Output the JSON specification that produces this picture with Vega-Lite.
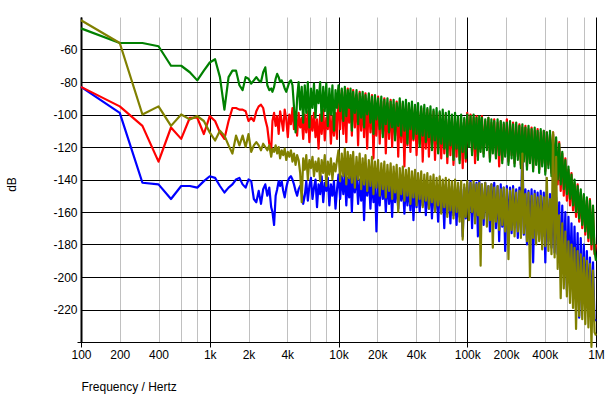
{
"$schema": "https://vega.github.io/schema/vega-lite/v6.json",
"width": 515, "height": 325,
"autosize": {"type": "none"},
"padding": {"left": 81, "top": 17, "right": 17, "bottom": 66},
"background": "white",
"config": {"view": {"stroke": null}},
"data": {"values": [
{"f":100,"r":-83,"g":-47,"b":-83,"o":-42},
{"f":200,"r":-95,"g":-56,"b":-99,"o":-56},
{"f":300,"r":-107,"g":-56,"b":-142,"o":-100},
{"f":400,"r":-129,"g":-58,"b":-143,"o":-95},
{"f":500,"r":-108,"g":-70,"b":-152,"o":-107},
{"f":600,"r":-115,"g":-70,"b":-144,"o":-100},
{"f":700,"r":-102,"g":-74,"b":-144,"o":-103},
{"f":800,"r":-102,"g":-79,"b":-145,"o":-101},
{"f":900,"r":-112,"g":-73,"b":-141,"o":-104},
{"f":1000,"r":-101,"g":-68,"b":-138,"o":-111},
{"f":1100,"r":-104,"g":-66,"b":-139,"o":-116},
{"f":1200,"r":-111,"g":-77,"b":-144,"o":-110},
{"f":1300,"r":-115,"g":-97,"b":-148,"o":-113},
{"f":1400,"r":-104,"g":-77,"b":-145,"o":-119},
{"f":1500,"r":-96,"g":-73,"b":-143,"o":-124},
{"f":1600,"r":-96,"g":-73,"b":-140,"o":-113},
{"f":1700,"r":-97,"g":-82,"b":-139,"o":-119},
{"f":1800,"r":-97,"g":-85,"b":-143,"o":-113},
{"f":1900,"r":-98,"g":-77,"b":-145,"o":-120},
{"f":2000,"r":-104,"g":-78,"b":-140,"o":-112},
{"f":2100,"r":-102,"g":-81,"b":-141,"o":-123},
{"f":2200,"r":-104,"g":-79,"b":-152,"o":-119},
{"f":2300,"r":-98,"g":-77,"b":-154,"o":-117},
{"f":2400,"r":-95,"g":-79,"b":-147,"o":-119},
{"f":2500,"r":-94,"g":-80,"b":-155,"o":-122},
{"f":2600,"r":-96,"g":-74,"b":-146,"o":-118},
{"f":2700,"r":-103,"g":-71,"b":-143,"o":-120},
{"f":2800,"r":-108,"g":-82,"b":-150,"o":-122},
{"f":2900,"r":-118,"g":-85,"b":-145,"o":-119},
{"f":3000,"r":-122,"g":-84,"b":-157,"o":-126},
{"f":3070,"r":-104,"g":-86,"b":-160,"o":-121},
{"f":3160,"r":-99,"g":-83,"b":-168,"o":-123},
{"f":3250,"r":-107,"g":-78,"b":-150,"o":-119},
{"f":3340,"r":-101,"g":-75,"b":-146,"o":-124},
{"f":3430,"r":-112,"g":-77,"b":-141,"o":-120},
{"f":3520,"r":-98,"g":-80,"b":-144,"o":-127},
{"f":3620,"r":-104,"g":-79,"b":-141,"o":-122},
{"f":3720,"r":-110,"g":-81,"b":-147,"o":-125},
{"f":3820,"r":-97,"g":-84,"b":-151,"o":-121},
{"f":3930,"r":-103,"g":-86,"b":-145,"o":-128},
{"f":4040,"r":-114,"g":-83,"b":-141,"o":-123},
{"f":4150,"r":-100,"g":-80,"b":-139,"o":-126},
{"f":4270,"r":-106,"g":-79,"b":-138,"o":-122},
{"f":4390,"r":-96,"g":-82,"b":-140,"o":-129},
{"f":4510,"r":-109,"g":-95,"b":-143,"o":-124},
{"f":4640,"r":-101,"g":-111,"b":-147,"o":-131},
{"f":4770,"r":-113,"g":-90,"b":-150,"o":-125},
{"f":4900,"r":-99,"g":-80,"b":-146,"o":-128},
{"f":5040,"r":-108,"g":-97,"b":-144,"o":-136},
{"f":5180,"r":-102,"g":-83,"b":-147,"o":-154},
{"f":5320,"r":-115,"g":-105,"b":-155,"o":-127},
{"f":5470,"r":-100,"g":-82,"b":-150,"o":-134},
{"f":5620,"r":-111,"g":-99,"b":-141,"o":-125},
{"f":5780,"r":-98,"g":-80,"b":-153,"o":-140},
{"f":5940,"r":-117,"g":-108,"b":-144,"o":-128},
{"f":6110,"r":-101,"g":-84,"b":-139,"o":-133},
{"f":6280,"r":-110,"g":-96,"b":-152,"o":-126},
{"f":6450,"r":-99,"g":-81,"b":-145,"o":-138},
{"f":6630,"r":-114,"g":-102,"b":-140,"o":-129},
{"f":6810,"r":-103,"g":-85,"b":-157,"o":-135},
{"f":7000,"r":-121,"g":-93,"b":-143,"o":-127},
{"f":7200,"r":-100,"g":-80,"b":-149,"o":-141},
{"f":7400,"r":-112,"g":-104,"b":-138,"o":-128},
{"f":7610,"r":-97,"g":-83,"b":-154,"o":-136},
{"f":7820,"r":-116,"g":-98,"b":-142,"o":-125},
{"f":8040,"r":-102,"g":-81,"b":-147,"o":-144},
{"f":8260,"r":-109,"g":-107,"b":-139,"o":-129},
{"f":8490,"r":-96,"g":-84,"b":-156,"o":-137},
{"f":8730,"r":-118,"g":-100,"b":-143,"o":-127},
{"f":8970,"r":-101,"g":-82,"b":-150,"o":-140},
{"f":9220,"r":-113,"g":-110,"b":-141,"o":-130},
{"f":9480,"r":-99,"g":-85,"b":-158,"o":-135},
{"f":9740,"r":-115,"g":-96,"b":-146,"o":-128},
{"f":10000,"r":-84,"g":-82,"b":-137,"o":-122},
{"f":10300,"r":-109,"g":-98,"b":-152,"o":-141},
{"f":10600,"r":-85,"g":-84,"b":-138,"o":-124},
{"f":10900,"r":-112,"g":-104,"b":-149,"o":-138},
{"f":11200,"r":-86,"g":-83,"b":-136,"o":-121},
{"f":11500,"r":-117,"g":-101,"b":-156,"o":-143},
{"f":11800,"r":-84,"g":-85,"b":-139,"o":-123},
{"f":12100,"r":-105,"g":-96,"b":-151,"o":-139},
{"f":12400,"r":-87,"g":-84,"b":-137,"o":-125},
{"f":12700,"r":-113,"g":-110,"b":-160,"o":-142},
{"f":13000,"r":-85,"g":-86,"b":-138,"o":-123},
{"f":13400,"r":-108,"g":-99,"b":-148,"o":-145},
{"f":13800,"r":-88,"g":-85,"b":-137,"o":-126},
{"f":14200,"r":-119,"g":-106,"b":-155,"o":-140},
{"f":14600,"r":-86,"g":-87,"b":-140,"o":-124},
{"f":15000,"r":-110,"g":-102,"b":-153,"o":-146},
{"f":15400,"r":-89,"g":-86,"b":-138,"o":-127},
{"f":15800,"r":-114,"g":-108,"b":-165,"o":-143},
{"f":16200,"r":-87,"g":-88,"b":-139,"o":-125},
{"f":16700,"r":-121,"g":-100,"b":-150,"o":-147},
{"f":17200,"r":-90,"g":-87,"b":-138,"o":-128},
{"f":17700,"r":-111,"g":-105,"b":-158,"o":-144},
{"f":18200,"r":-88,"g":-89,"b":-140,"o":-126},
{"f":18700,"r":-127,"g":-112,"b":-154,"o":-149},
{"f":19200,"r":-91,"g":-88,"b":-139,"o":-129},
{"f":19700,"r":-113,"g":-103,"b":-172,"o":-145},
{"f":20300,"r":-89,"g":-90,"b":-141,"o":-128},
{"f":20900,"r":-118,"g":-109,"b":-156,"o":-150},
{"f":21500,"r":-92,"g":-89,"b":-139,"o":-130},
{"f":22100,"r":-112,"g":-114,"b":-152,"o":-146},
{"f":22700,"r":-90,"g":-91,"b":-141,"o":-129},
{"f":23300,"r":-124,"g":-106,"b":-160,"o":-151},
{"f":24000,"r":-93,"g":-90,"b":-140,"o":-131},
{"f":24700,"r":-115,"g":-111,"b":-155,"o":-147},
{"f":25400,"r":-91,"g":-92,"b":-142,"o":-130},
{"f":26100,"r":-120,"g":-108,"b":-163,"o":-152},
{"f":26800,"r":-94,"g":-91,"b":-140,"o":-132},
{"f":27500,"r":-113,"g":-116,"b":-154,"o":-148},
{"f":28300,"r":-92,"g":-93,"b":-142,"o":-131},
{"f":29100,"r":-126,"g":-107,"b":-158,"o":-160},
{"f":29900,"r":-95,"g":-90,"b":-141,"o":-133},
{"f":30700,"r":-117,"g":-113,"b":-153,"o":-149},
{"f":31600,"r":-93,"g":-92,"b":-143,"o":-132},
{"f":32500,"r":-132,"g":-110,"b":-161,"o":-153},
{"f":33400,"r":-96,"g":-91,"b":-141,"o":-134},
{"f":34300,"r":-119,"g":-118,"b":-156,"o":-150},
{"f":35200,"r":-94,"g":-93,"b":-143,"o":-133},
{"f":36200,"r":-123,"g":-109,"b":-159,"o":-155},
{"f":37200,"r":-97,"g":-92,"b":-142,"o":-135},
{"f":38200,"r":-116,"g":-115,"b":-165,"o":-151},
{"f":39300,"r":-95,"g":-94,"b":-144,"o":-134},
{"f":40400,"r":-125,"g":-112,"b":-157,"o":-156},
{"f":41500,"r":-98,"g":-93,"b":-142,"o":-136},
{"f":42700,"r":-118,"g":-120,"b":-160,"o":-152},
{"f":43900,"r":-96,"g":-95,"b":-143,"o":-135},
{"f":45100,"r":-129,"g":-113,"b":-156,"o":-157},
{"f":46400,"r":-99,"g":-94,"b":-142,"o":-137},
{"f":47700,"r":-121,"g":-117,"b":-162,"o":-153},
{"f":49000,"r":-97,"g":-96,"b":-144,"o":-136},
{"f":50400,"r":-126,"g":-114,"b":-158,"o":-158},
{"f":51800,"r":-100,"g":-95,"b":-143,"o":-138},
{"f":53200,"r":-119,"g":-122,"b":-164,"o":-154},
{"f":54700,"r":-98,"g":-97,"b":-142,"o":-137},
{"f":56200,"r":-128,"g":-116,"b":-159,"o":-160},
{"f":57800,"r":-101,"g":-96,"b":-144,"o":-139},
{"f":59400,"r":-122,"g":-124,"b":-166,"o":-156},
{"f":61100,"r":-99,"g":-98,"b":-143,"o":-138},
{"f":62800,"r":-127,"g":-118,"b":-160,"o":-161},
{"f":64500,"r":-102,"g":-97,"b":-145,"o":-140},
{"f":66300,"r":-124,"g":-121,"b":-170,"o":-157},
{"f":68100,"r":-100,"g":-99,"b":-143,"o":-139},
{"f":70000,"r":-130,"g":-126,"b":-161,"o":-163},
{"f":72000,"r":-103,"g":-98,"b":-145,"o":-140},
{"f":74000,"r":-125,"g":-119,"b":-167,"o":-159},
{"f":76100,"r":-101,"g":-100,"b":-144,"o":-141},
{"f":78200,"r":-131,"g":-128,"b":-162,"o":-164},
{"f":80400,"r":-104,"g":-99,"b":-146,"o":-140},
{"f":82600,"r":-126,"g":-121,"b":-168,"o":-160},
{"f":84900,"r":-102,"g":-101,"b":-144,"o":-142},
{"f":87300,"r":-128,"g":-130,"b":-163,"o":-166},
{"f":89700,"r":-105,"g":-100,"b":-146,"o":-141},
{"f":92200,"r":-133,"g":-123,"b":-175,"o":-177},
{"f":94800,"r":-103,"g":-102,"b":-145,"o":-143},
{"f":97400,"r":-129,"g":-127,"b":-164,"o":-163},
{"f":100000,"r":-99,"g":-100,"b":-142,"o":-141},
{"f":103000,"r":-118,"g":-120,"b":-162,"o":-165},
{"f":106000,"r":-100,"g":-101,"b":-141,"o":-142},
{"f":109000,"r":-123,"g":-125,"b":-170,"o":-160},
{"f":112000,"r":-102,"g":-100,"b":-143,"o":-141},
{"f":115000,"r":-130,"g":-121,"b":-163,"o":-167},
{"f":118000,"r":-101,"g":-102,"b":-142,"o":-143},
{"f":121000,"r":-126,"g":-128,"b":-175,"o":-162},
{"f":124000,"r":-103,"g":-101,"b":-141,"o":-142},
{"f":127000,"r":-121,"g":-123,"b":-165,"o":-193},
{"f":130000,"r":-101,"g":-102,"b":-143,"o":-143},
{"f":134000,"r":-124,"g":-126,"b":-168,"o":-164},
{"f":138000,"r":-104,"g":-103,"b":-142,"o":-142},
{"f":142000,"r":-120,"g":-122,"b":-163,"o":-169},
{"f":146000,"r":-102,"g":-102,"b":-144,"o":-144},
{"f":150000,"r":-127,"g":-129,"b":-172,"o":-165},
{"f":154000,"r":-105,"g":-103,"b":-143,"o":-143},
{"f":158000,"r":-122,"g":-124,"b":-166,"o":-182},
{"f":162000,"r":-103,"g":-104,"b":-142,"o":-145},
{"f":167000,"r":-125,"g":-127,"b":-170,"o":-166},
{"f":172000,"r":-105,"g":-103,"b":-144,"o":-144},
{"f":177000,"r":-132,"g":-125,"b":-178,"o":-171},
{"f":182000,"r":-104,"g":-104,"b":-143,"o":-146},
{"f":187000,"r":-128,"g":-130,"b":-169,"o":-168},
{"f":192000,"r":-106,"g":-105,"b":-145,"o":-145},
{"f":197000,"r":-124,"g":-126,"b":-184,"o":-172},
{"f":203000,"r":-103,"g":-105,"b":-144,"o":-146},
{"f":209000,"r":-129,"g":-131,"b":-170,"o":-189},
{"f":215000,"r":-106,"g":-104,"b":-145,"o":-147},
{"f":221000,"r":-125,"g":-127,"b":-173,"o":-171},
{"f":227000,"r":-105,"g":-106,"b":-144,"o":-146},
{"f":233000,"r":-130,"g":-132,"b":-168,"o":-175},
{"f":240000,"r":-107,"g":-105,"b":-146,"o":-148},
{"f":247000,"r":-126,"g":-128,"b":-176,"o":-172},
{"f":254000,"r":-106,"g":-107,"b":-145,"o":-147},
{"f":261000,"r":-131,"g":-133,"b":-171,"o":-176},
{"f":268000,"r":-108,"g":-106,"b":-114,"o":-124},
{"f":275000,"r":-127,"g":-129,"b":-174,"o":-173},
{"f":283000,"r":-107,"g":-108,"b":-146,"o":-149},
{"f":291000,"r":-132,"g":-134,"b":-180,"o":-178},
{"f":299000,"r":-109,"g":-107,"b":-147,"o":-148},
{"f":307000,"r":-128,"g":-130,"b":-172,"o":-200},
{"f":316000,"r":-108,"g":-109,"b":-146,"o":-150},
{"f":325000,"r":-133,"g":-135,"b":-191,"o":-176},
{"f":334000,"r":-110,"g":-108,"b":-147,"o":-149},
{"f":343000,"r":-129,"g":-131,"b":-174,"o":-180},
{"f":352000,"r":-109,"g":-110,"b":-148,"o":-151},
{"f":362000,"r":-134,"g":-136,"b":-177,"o":-178},
{"f":372000,"r":-111,"g":-109,"b":-147,"o":-150},
{"f":382000,"r":-130,"g":-132,"b":-175,"o":-183},
{"f":393000,"r":-110,"g":-110,"b":-148,"o":-151},
{"f":404000,"r":-135,"g":-137,"b":-191,"o":-181},
{"f":415000,"r":-111,"g":-111,"b":-148,"o":-139},
{"f":427000,"r":-131,"g":-133,"b":-178,"o":-184},
{"f":439000,"r":-112,"g":-110,"b":-149,"o":-152},
{"f":451000,"r":-136,"g":-138,"b":-182,"o":-186},
{"f":464000,"r":-111,"g":-112,"b":-150,"o":-111},
{"f":477000,"r":-140,"g":-136,"b":-185,"o":-188},
{"f":490000,"r":-116,"g":-114,"b":-151,"o":-126},
{"f":504000,"r":-143,"g":-140,"b":-186,"o":-195},
{"f":518000,"r":-117,"g":-118,"b":-154,"o":-162},
{"f":532000,"r":-147,"g":-143,"b":-200,"o":-213},
{"f":547000,"r":-124,"g":-123,"b":-156,"o":-167},
{"f":562000,"r":-150,"g":-146,"b":-196,"o":-207},
{"f":578000,"r":-127,"g":-128,"b":-160,"o":-172},
{"f":594000,"r":-153,"g":-149,"b":-208,"o":-212},
{"f":611000,"r":-134,"g":-132,"b":-163,"o":-178},
{"f":628000,"r":-156,"g":-152,"b":-203,"o":-216},
{"f":645000,"r":-136,"g":-137,"b":-167,"o":-180},
{"f":663000,"r":-159,"g":-156,"b":-209,"o":-219},
{"f":681000,"r":-142,"g":-140,"b":-169,"o":-182},
{"f":700000,"r":-163,"g":-160,"b":-212,"o":-232},
{"f":720000,"r":-143,"g":-144,"b":-173,"o":-184},
{"f":740000,"r":-166,"g":-164,"b":-225,"o":-224},
{"f":761000,"r":-148,"g":-146,"b":-176,"o":-186},
{"f":782000,"r":-170,"g":-168,"b":-216,"o":-226},
{"f":804000,"r":-150,"g":-149,"b":-180,"o":-188},
{"f":826000,"r":-174,"g":-172,"b":-219,"o":-229},
{"f":849000,"r":-153,"g":-151,"b":-184,"o":-190},
{"f":873000,"r":-178,"g":-176,"b":-222,"o":-231},
{"f":897000,"r":-152,"g":-153,"b":-188,"o":-192},
{"f":922000,"r":-183,"g":-180,"b":-224,"o":-243},
{"f":948000,"r":-158,"g":-156,"b":-191,"o":-196},
{"f":974000,"r":-186,"g":-184,"b":-227,"o":-234},
{"f":1000000,"r":-180,"g":-190,"b":-226,"o":-236}
]},
"transform": [{"fold": ["b", "r", "g", "o"], "as": ["s", "v"]}],
"encoding": {
  "x": {"field": "f", "type": "quantitative",
    "scale": {"type": "log", "domain": [100, 1000000], "nice": false},
    "axis": {
      "title": "Frequency / Hertz",
      "values": [100,200,400,600,800,1000,2000,4000,6000,8000,10000,20000,40000,60000,80000,100000,200000,400000,600000,800000,1000000],
      "labelExpr": "indexof([600,800,6000,8000,60000,80000,600000,800000], datum.value) >= 0 ? '' : datum.value >= 1000000 ? '1M' : datum.value >= 1000 ? format(datum.value/1000, 'd') + 'k' : format(datum.value, 'd')",
      "labelOverlap": false, "labelFlush": false,
      "labelFont": "Liberation Sans", "labelFontSize": 12, "labelColor": "black", "labelPadding": 2,
      "tickSize": 5,
      "tickColor": {"condition": {"test": "indexof([100,1000,10000,100000,1000000], datum.value) >= 0", "value": "black"}, "value": "transparent"},
      "grid": true,
      "gridColor": {"condition": {"test": "indexof([100,1000,10000,100000,1000000], datum.value) >= 0", "value": "black"}, "value": "#c0c0c0"},
      "gridWidth": 1, "gridOpacity": 1,
      "domainColor": "black", "domainWidth": 1,
      "titleFont": "Liberation Sans", "titleFontSize": 12, "titleFontWeight": "normal", "titleColor": "black",
      "titleAnchor": "start", "titleAlign": "left", "titlePadding": 21
    }},
  "y": {"field": "v", "type": "quantitative",
    "scale": {"domain": [-240, -40], "nice": false, "zero": false},
    "axis": {
      "title": "dB",
      "values": [-240,-220,-200,-180,-160,-140,-120,-100,-80,-60],
      "labelExpr": "datum.value == -240 ? '' : '-' + abs(datum.value)",
      "labelFont": "Liberation Sans", "labelFontSize": 12, "labelColor": "black", "labelPadding": 0,
      "tickSize": 4,
      "tickColor": {"condition": {"test": "datum.value == -240", "value": "black"}, "value": "transparent"},
      "grid": true, "gridColor": "black", "gridWidth": 1, "gridOpacity": 1,
      "domainColor": "black", "domainWidth": 2,
      "titleFont": "Liberation Sans", "titleFontSize": 12, "titleFontWeight": "normal", "titleColor": "black",
      "titleAngle": -90, "titleX": -70, "titleY": 167, "titleAlign": "center", "titleBaseline": "middle"
    }}
},
"layer": [
  {"transform": [{"filter": "datum.s == 'b'"}], "mark": {"type": "line", "color": "#0000ff", "strokeWidth": 2.2, "strokeJoin": "round"}},
  {"transform": [{"filter": "datum.s == 'r'"}], "mark": {"type": "line", "color": "#ff0000", "strokeWidth": 2.2, "strokeJoin": "round"}},
  {"transform": [{"filter": "datum.s == 'g'"}], "mark": {"type": "line", "color": "#008000", "strokeWidth": 2.2, "strokeJoin": "round"}},
  {"transform": [{"filter": "datum.s == 'o'"}], "mark": {"type": "line", "color": "#808000", "strokeWidth": 2.2, "strokeJoin": "round"}}
]
}
